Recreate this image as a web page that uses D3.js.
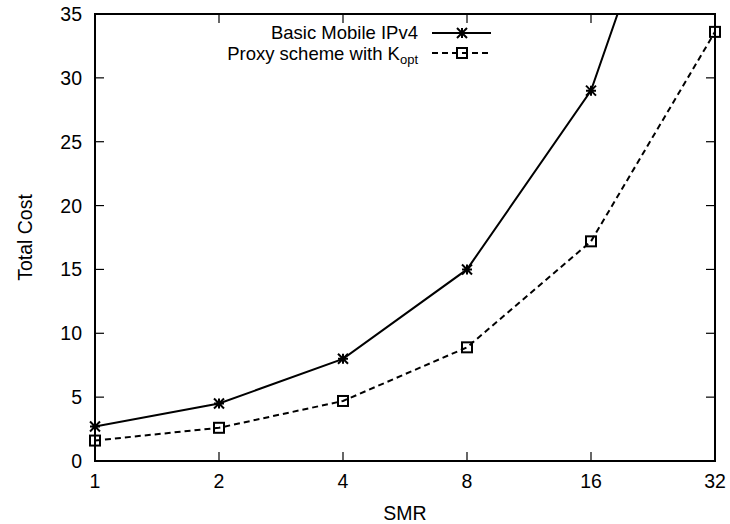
<!DOCTYPE html>
<html>
<head>
<meta charset="utf-8">
<script src="https://cdn.jsdelivr.net/npm/d3@7"></script>
<style>
  body { margin: 0; background: #fff; }
  svg text { font-family: "Liberation Sans", Arial, Helvetica, sans-serif; fill: #000; }
</style>
</head>
<body>
<div class="container"></div>
<script>
// chart data
var smr = [1, 2, 4, 8, 16, 32];
var basicCost = [2.7, 4.5, 8.0, 15.0, 29.0, 57.0];
var proxyCost = [1.6, 2.6, 4.7, 8.9, 17.2, 33.6];
var yTicks = [0, 5, 10, 15, 20, 25, 30, 35];

var width = 730, height = 524;
var margin = {top: 14, right: 15, bottom: 63, left: 95};
var fs = '19.5px';

var svg = d3.select('.container').append('svg')
  .attr('width', width).attr('height', height);

var x = d3.scaleLog().base(2).domain([1, 32]).range([margin.left, width - margin.right]);
var y = d3.scaleLinear().domain([0, 35]).range([height - margin.bottom, margin.top]);

var x0 = x.range()[0], x1 = x.range()[1], y0 = y.range()[0], y1 = y.range()[1];
var tickLen = 9;

// ticks (mirrored on all sides, like gnuplot)
var ticks = svg.append('g').attr('stroke', '#000').attr('stroke-width', 1.2);
smr.forEach(function(d){
  ticks.append('line').attr('x1', x(d)).attr('x2', x(d)).attr('y1', y0).attr('y2', y0 - tickLen);
  ticks.append('line').attr('x1', x(d)).attr('x2', x(d)).attr('y1', y1).attr('y2', y1 + tickLen);
});
yTicks.forEach(function(d){
  ticks.append('line').attr('x1', x0).attr('x2', x0 + tickLen).attr('y1', y(d)).attr('y2', y(d));
  ticks.append('line').attr('x1', x1).attr('x2', x1 - tickLen).attr('y1', y(d)).attr('y2', y(d));
});

// tick labels
svg.append('g').selectAll('text').data(smr).enter().append('text')
  .attr('x', function(d){ return x(d); })
  .attr('y', y0 + 27)
  .attr('text-anchor', 'middle')
  .style('font-size', fs)
  .text(function(d){ return d; });

svg.append('g').selectAll('text').data(yTicks).enter().append('text')
  .attr('x', x0 - 13)
  .attr('y', function(d){ return y(d) + 7; })
  .attr('text-anchor', 'end')
  .style('font-size', fs)
  .text(function(d){ return d; });

// axis titles
svg.append('text').attr('x', (x0 + x1) / 2).attr('y', 520)
  .attr('text-anchor', 'middle').style('font-size', fs).text('SMR');
svg.append('text')
  .attr('transform', 'translate(32,' + ((y0 + y1) / 2) + ') rotate(-90)')
  .attr('text-anchor', 'middle').style('font-size', fs).text('Total Cost');

// clip for lines
svg.append('clipPath').attr('id', 'plotclip').append('rect')
  .attr('x', x0).attr('y', y1).attr('width', x1 - x0).attr('height', y0 - y1);

var line = d3.line()
  .x(function(d){ return x(d[0]); })
  .y(function(d){ return y(d[1]); });

var basicData = smr.map(function(s, i){ return [s, basicCost[i]]; });
var proxyData = smr.map(function(s, i){ return [s, proxyCost[i]]; });

svg.append('path').datum(basicData)
  .attr('clip-path', 'url(#plotclip)')
  .attr('d', line).attr('fill', 'none').attr('stroke', '#000').attr('stroke-width', 2);

svg.append('path').datum(proxyData)
  .attr('clip-path', 'url(#plotclip)')
  .attr('d', line).attr('fill', 'none').attr('stroke', '#000').attr('stroke-width', 2)
  .attr('stroke-dasharray', '6,4');

// markers
function star(g, cx, cy){
  var r = 5;
  g.append('path')
    .attr('d', 'M' + (cx - r) + ',' + cy + 'H' + (cx + r) +
      'M' + cx + ',' + (cy - r) + 'V' + (cy + r) +
      'M' + (cx - r) + ',' + (cy - r) + 'L' + (cx + r) + ',' + (cy + r) +
      'M' + (cx - r) + ',' + (cy + r) + 'L' + (cx + r) + ',' + (cy - r))
    .attr('stroke', '#000').attr('stroke-width', 2).attr('fill', 'none');
}
function box(g, cx, cy){
  var r = 5;
  g.append('rect').attr('x', cx - r).attr('y', cy - r).attr('width', 2 * r).attr('height', 2 * r)
    .attr('fill', 'none').attr('stroke', '#000').attr('stroke-width', 2);
}

var marks = svg.append('g');
basicData.forEach(function(d){
  if (d[1] <= 35) star(marks, x(d[0]), y(d[1]));
});
proxyData.forEach(function(d){
  if (d[1] <= 35) box(marks, x(d[0]), y(d[1]));
});

// frame
svg.append('rect').attr('x', x0).attr('y', y1).attr('width', x1 - x0).attr('height', y0 - y1)
  .attr('fill', 'none').attr('stroke', '#000').attr('stroke-width', 2);

// legend
var legend = svg.append('g');
var lfs = '18.5px';
var lx = 418, ly1 = 33, ly2 = 53;
legend.append('text').attr('x', lx).attr('y', 39).attr('text-anchor', 'end')
  .style('font-size', lfs).text('Basic Mobile IPv4');
var t2 = legend.append('text').attr('x', lx).attr('y', 60).attr('text-anchor', 'end')
  .style('font-size', lfs);
t2.append('tspan').text('Proxy scheme with K');
t2.append('tspan').attr('dy', 4).style('font-size', '13px').text('opt');

legend.append('line').attr('x1', 432).attr('x2', 491).attr('y1', ly1).attr('y2', ly1)
  .attr('stroke', '#000').attr('stroke-width', 2);
star(legend, 462, ly1);
legend.append('line').attr('x1', 432).attr('x2', 491).attr('y1', ly2).attr('y2', ly2)
  .attr('stroke', '#000').attr('stroke-width', 2).attr('stroke-dasharray', '6,4');
box(legend, 462, ly2);
</script>
</body>
</html>
